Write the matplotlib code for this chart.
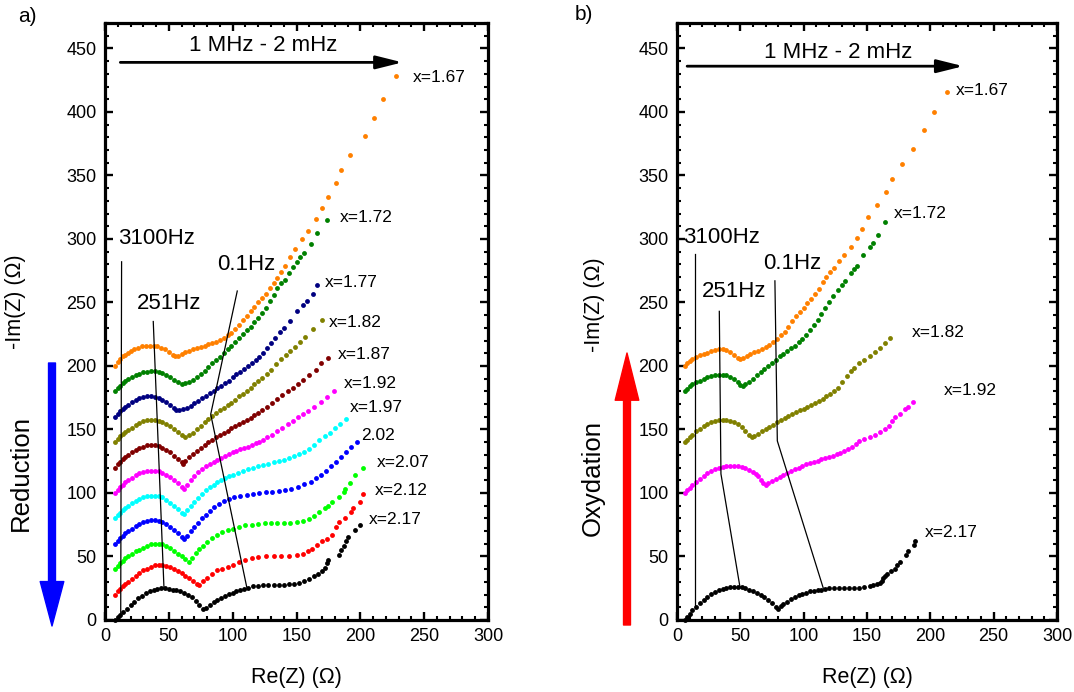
import numpy as np
import matplotlib.pyplot as plt
from matplotlib.ticker import MultipleLocator
from matplotlib.patches import FancyArrowPatch

plt.rcParams['font.family'] = ['Liberation Sans', 'DejaVu Sans']

# ---- panel a) reduction, Re(Z) / -Im(Z) pairs (offset curves) ----
a_167 = [(8,200),(10,203),(12,205.5),(14,207.5),(16,209),(18,210.5),(20,212),(23,213.5),(26,214.5),(29,215.5),
         (32,216),(35,216),(38,216),(41,215.5),(44,214.5),(47,213),(50,211),(53,209),(55,208),(57,208),
         (60,209.5),(63,211),(66,212),(69,213),(72,214),(75,215),(78,216),(81,217),(84,218),(87,219),
         (90,220.5),(93,222),(96,224),(99,226),(102,229),(105,232),(108,236),(111,239.5),(114,243),(117,246.5),
         (120,250),(123,253.5),(126,257),(129,261),(132,265),(135,269),(138,274),(141,279),(145,286),(149,292),
         (154,300),(159,306),(165,316),(170,324),(175,333),(181,344),(185,354),(192,366),(204,381),(211,395),
         (218,410),(228,428)]
a_172 = [(8,180),(10,182.5),(12,184.5),(14,186.5),(16,188),(18,189.5),(21,191),(24,192.5),(27,194),(30,195),
         (33,195.5),(36,196),(39,196),(42,195.5),(45,194.5),(48,193),(51,191),(54,189),(57,187),(60,186),
         (63,186.5),(66,187),(69,189),(72,191.5),(75,194),(78,196),(81,199),(84,202),(87,204.5),(90,207),
         (93,210),(96,213),(99,216),(102,219),(105,222),(108,225),(111,228),(114,231),(117,234.5),(120,238),
         (123,241.5),(126,246),(129,251),(132,256),(135,261),(138,265),(141,268),(144,273),(147,278),(150,282),
         (153,286),(156,289),(161,296),(166,305),(174,315)]
a_177 = [(8,160),(10,162.5),(12,164.5),(14,166.5),(16,168),(18,169.5),(21,171.5),(24,173),(27,174.5),(30,175.5),
         (33,176),(36,176),(39,175.5),(42,174.5),(45,173),(48,171.5),(51,169.5),(54,167),(56,165),(58,165.5),
         (61,166),(64,167),(67,168.5),(70,170.5),(73,172.5),(76,174.5),(79,176.5),(82,178.5),(85,180.5),(88,182.5),
         (91,184.5),(94,186.5),(97,188.5),(100,191),(103,193.5),(106,195.5),(109,197.5),(112,200),(115,202),(118,204.5),
         (121,207),(124,210.5),(127,214),(130,218),(133,222),(137,227),(140,230),(145,235.5),(150,243),(155,248),
         (158,251),(163,257),(166,264)]
a_182 = [(8,140),(10,142.5),(12,144.5),(14,146.5),(16,148),(18,149.5),(21,151.5),(24,153.5),(27,155),(30,156.5),
         (33,157.5),(36,157.5),(39,157.5),(42,157),(45,156),(48,154.5),(51,152.5),(54,150.5),(57,148),(60,146),
         (63,144),(66,145.5),(69,147.5),(72,150),(75,152.5),(78,155.5),(81,158),(84,160.5),(87,163),(90,165),
         (93,167),(96,169),(99,171),(102,173.5),(105,176),(108,178),(111,180.5),(114,183),(117,185.5),(120,188),
         (123,190.5),(127,194),(130,197),(134,201.5),(138,205.5),(142,209),(145,212),(149,215),(153,219),(157,223),
         (163,229),(170,236)]
a_187 = [(8,120),(10,122.5),(12,124.5),(14,126.5),(16,128.5),(18,130),(21,132),(24,134),(27,135.5),(30,136.5),
         (33,137.5),(36,137.5),(39,137.5),(42,137),(45,135.5),(48,134),(51,132),(54,129.5),(57,126.5),(60,124),
         (61,123),(63,125),(66,128),(69,130.5),(72,133),(75,135.5),(78,138),(81,140),(84,142),(87,144),
         (90,146),(93,147.5),(96,149),(99,151),(102,152.5),(105,154),(108,155.5),(111,157.5),(114,159),(117,161),
         (120,163),(123,165),(127,168),(131,171),(135,174),(139,177),(143,180.5),(147,183),(151,186),(155,189),
         (160,193),(165,197),(169,202),(175,206)]
a_192 = [(8,100),(10,102.5),(12,104.5),(14,106.5),(16,108.5),(18,110),(21,112),(24,114),(27,115.5),(30,116.5),
         (33,117.5),(36,117.5),(39,117.5),(42,117),(45,116),(48,114.5),(51,112.5),(54,110),(57,107.5),(60,104.5),
         (62,103.5),(64,106),(67,110),(70,113.5),(73,116.5),(76,119),(79,121),(82,123),(85,124.5),(88,126),
         (91,127.5),(94,129),(97,130.5),(100,132),(103,133),(106,134.5),(109,135.5),(112,136.5),(115,137.5),(118,139),
         (121,140.5),(124,142),(127,144),(131,146),(135,148.5),(139,151),(143,154),(147,157),(151,159.5),(155,162),
         (159,164.5),(164,168),(169,171.5),(174,175.5),(179,180)]
a_197 = [(8,80),(10,82.5),(12,84.5),(14,86.5),(16,88.5),(18,90),(21,92),(24,94),(27,95.5),(30,97),
         (33,97.5),(36,98),(39,98),(42,97.5),(45,96.5),(48,94.5),(51,92.5),(54,90),(57,87),(60,84),
         (62,83.5),(64,86.5),(67,90),(70,93),(73,96),(76,99),(79,102),(82,104.5),(85,106.5),(88,108.5),
         (91,110),(94,111.5),(97,113),(100,114.5),(104,116),(108,117.5),(112,119),(116,120),(120,121),(124,122),
         (128,123),(132,124),(136,125),(140,126),(144,127.5),(148,129),(152,131),(156,132.5),(160,135),(164,138),
         (168,141.5),(172,144.5),(176,147.5),(180,151),(184,154.5),(189,158)]
a_202 = [(8,60),(10,62.5),(12,64.5),(14,66.5),(16,68.5),(18,70),(21,72),(24,74),(27,75.5),(30,77),
         (33,78),(36,78.5),(39,78.5),(42,78),(45,77),(48,75.5),(51,73.5),(54,71),(57,68.5),(60,65.5),
         (62,64),(64,66.5),(67,70),(70,73),(73,76.5),(76,80),(79,83),(82,86),(85,89),(89,91.5),
         (93,93.5),(97,95),(101,96.5),(106,97.5),(111,98.5),(116,99.5),(121,100),(126,100.5),(131,101),(136,101.5),
         (141,102),(146,103.5),(151,105),(156,107),(161,109),(165,111.5),(169,114.5),(173,117.5),(177,121),(181,124.5),
         (185,128.5),(189,132.5),(193,136.5),(197,140.5)]
a_207 = [(8,40),(10,42.5),(12,44.5),(14,46.5),(16,48.5),(18,50),(21,52),(24,54),(27,55.5),(30,57),
         (33,58.5),(36,59.5),(39,60),(42,60),(45,59.5),(48,58),(51,56.5),(54,54.5),(57,52),(60,50),
         (63,48),(66,46),(68,48.5),(71,52.5),(74,56),(77,58.5),(80,61.5),(84,64.5),(88,67),(92,69),
         (96,70.5),(100,72),(105,73.5),(110,74.5),(115,75),(120,75.5),(125,76),(130,76),(135,76),(140,76),
         (145,76.5),(150,77),(155,78),(160,79.5),(164,81.5),(168,85),(172,88),(175,90),(178,93),(183,97),
         (187,101),(188,103),(192,107.5),(196,114),(202,120)]
a_212 = [(8,20),(10,22.5),(12,24.5),(14,26.5),(16,28.5),(18,30),(21,32.5),(24,35),(27,37),(30,39),
         (33,40.5),(36,42),(39,43),(42,43),(45,43),(48,42.5),(51,41.5),(54,40),(57,38.5),(60,37),
         (63,35),(66,33),(69,30.5),(72,28),(74,27.5),(77,30.5),(80,33),(84,36.5),(88,39),(92,40.5),
         (96,42),(100,43.5),(105,45.5),(110,47),(115,48.5),(120,49.5),(126,50.5),(132,50.5),(138,50.5),(144,50.5),
         (150,51),(155,52),(159,54),(162,56),(166,59),(170,62),(174,64),(178,67),(181,73),(183,77),
         (188,80),(193,85),(194,88),(200,93),(202,99)]
a_217 = [(8,0),(10,2),(12,4),(14,6),(17,9),(20,12),(23,14.5),(26,17),(29,19),(32,21),
         (35,22.5),(38,23.5),(41,24.5),(44,25),(47,25),(50,24.5),(53,24),(56,23.5),(59,22.5),(62,21.5),
         (65,20),(68,18),(71,15),(74,12),(77,8.5),(79,9.5),(82,12),(85,14),(88,16),(91,17.5),
         (94,19),(97,20.5),(100,21.5),(103,22.5),(106,23.5),(109,24.5),(112,25.5),(116,26.5),(120,27),(124,27.5),
         (128,27.5),(132,27.5),(136,27.5),(140,27.5),(144,28),(148,28.5),(152,29.5),(156,31),(160,32.5),(164,34.5),
         (167,36.5),(170,38.5),(172,41),(174,44.5),(175,47),(183,51),(185,55),(187,58),(189,62),(190,65),
         (196,71),(200,75)]

a_curves = [a_167, a_172, a_177, a_182, a_187, a_192, a_197, a_202, a_207, a_212, a_217]
a_colors = ['#FF8000', '#008000', '#000080', '#808000', '#800000', '#FF00FF',
            '#00FFFF', '#0000FF', '#00FF00', '#FF0000', '#000000']
a_names = ['x=1.67', 'x=1.72', 'x=1.77', 'x=1.82', 'x=1.87', 'x=1.92',
           'x=1.97', '2.02', 'x=2.07', 'x=2.12', 'x=2.17']
a_name_xy = [(241, 427), (184, 317), (172, 266), (175, 234), (182, 209), (187, 186),
             (192, 167), (201, 145), (213, 124), (211, 102), (207, 79)]

# ---- panel b) oxidation ----
b_167 = [(6,200),(8,202),(10,204),(12,205.5),(15,207),(18,208.5),(21,209.5),(24,210.5),(27,211.5),(30,212.5),
         (33,213),(36,213),(39,212.5),(42,211),(45,208.5),(48,206),(50,205.5),(52,206.5),(55,208),(58,209.5),
         (61,211),(64,212),(67,213.5),(70,215),(73,216.5),(76,218.5),(79,221),(82,224),(85,227),(88,230.5),
         (91,235),(94,239),(97,242.5),(100,246),(103,249.5),(106,253),(109,256.5),(112,260.5),(115,266),(118,270),
         (121,274),(124,277),(128,283),(132,287.5),(137,294),(142,301),(146,308),(151,317),(158,327),(165,337),
         (170,347),(178,359),(186,371),(195,386),(203,400),(213,416)]
b_172 = [(6,180),(8,182),(10,184),(12,185.5),(15,187),(18,188.5),(21,190),(24,191),(27,192),(30,192.5),
         (33,193),(36,193),(39,192.5),(42,191),(45,189.5),(48,187),(50,185),(52,184.5),(54,185.5),(57,187.5),
         (60,190),(63,192.5),(66,195),(69,197.5),(72,200),(75,202.5),(78,205),(81,207.5),(84,209.5),(87,211.5),
         (90,214),(93,216),(96,218.5),(99,221),(102,224.5),(105,228),(108,232),(111,236.5),(114,241),(117,245.5),
         (120,250.5),(123,255),(127,260),(130,264),(133,267),(137,273),(140,276.5),(142,279),(147,287),(152,294),
         (155,297),(159,303),(164,313)]
b_182 = [(6,140),(8,142),(10,144),(12,146),(15,148.5),(18,150.5),(21,152.5),(24,154),(27,155.5),(30,156.5),
         (33,157.5),(36,157.5),(39,157.5),(42,157),(45,156),(48,154),(51,152),(54,149),(57,146),(59,144),
         (61,144.5),(64,146.5),(67,148.5),(70,150.5),(73,152),(76,153.5),(79,155.5),(82,157.5),(85,159),(88,160.5),
         (91,162),(94,163.5),(97,165),(100,166.5),(103,168),(106,169.5),(109,171),(112,172.5),(115,174),(118,176),
         (121,178),(124,180),(127,183),(130,187),(134,192),(137,196),(140,198),(144,202),(148,205),(152,208),
         (156,211),(160,214),(164,218),(168,222)]
b_192 = [(6,100),(8,102),(10,104),(12,106),(15,108.5),(18,111),(21,113.5),(24,115.5),(27,117.5),(30,119),
         (33,120),(36,120.5),(39,121),(42,121.5),(45,121.5),(48,121),(51,120.5),(54,119.5),(57,118),(60,116.5),
         (62,115),(64,113),(66,110.5),(68,108),(70,106.5),(72,107.5),(75,109.5),(78,111),(81,112.5),(84,114),
         (87,115.5),(90,117),(93,118.5),(96,120),(99,121.5),(102,122.5),(105,123.5),(108,124.5),(111,125.5),(114,126.5),
         (117,127.5),(120,128.5),(123,129.5),(126,130.5),(129,131.5),(132,133),(135,134.5),(138,136.5),(141,138.5),(144,141),
         (148,142.5),(152,144),(156,146),(160,148),(164,150.5),(167,153),(170,157),(172,159.5),(176,162),(180,166),
         (182,168),(186,171.5)]
b_217 = [(6,0),(8,2.5),(10,5),(12,7.5),(15,10.5),(18,13.5),(21,16),(24,18.5),(27,20.5),(30,22),
         (33,23.5),(36,24.5),(39,25.5),(42,26),(45,26),(48,26),(51,26),(54,25),(57,24),(60,23),
         (63,21.5),(66,20),(69,18),(72,16),(75,13),(78,10),(80,9),(82,11),(84,12.5),(87,14.5),
         (90,16.5),(93,18),(96,19.5),(99,20.5),(102,21.5),(105,22.5),(108,23),(111,23.5),(114,24),(117,24.5),
         (120,25),(124,25),(128,25),(132,25),(136,25),(140,25.5),(144,25.5),(148,26),(152,26.5),(155,27.5),
         (158,28.5),(160,29.5),(162,31),(163,33),(164,34.5),(166,36.5),(169,38.5),(172,40.5),(174,43),(176,46),
         (181,51),(182,54.5),(187,59),(188,62.5)]

b_curves = [b_167, b_172, b_182, b_192, b_217]
b_colors = ['#FF8000', '#008000', '#808000', '#FF00FF', '#000000']
b_names = ['x=1.67', 'x=1.72', 'x=1.82', 'x=1.92', 'x=2.17']
b_name_xy = [(220, 417), (171, 320), (185, 226), (211, 181), (196, 69)]

# frequency markers: label text, label position, guide line
a_freq = [('3100Hz', (10, 300), [(13, 282), (12.3, 2)]),
          ('251Hz', (25, 249), [(37.8, 235), (46.2, 25)]),
          ('0.1Hz', (88, 280), [(103.6, 259), (82.8, 162), (111, 26)])]
b_freq = [('3100Hz', (5, 301), [(14.2, 288), (14.2, 10)]),
          ('251Hz', (19.5, 259), [(33.4, 243), (34.7, 115), (49.7, 26)]),
          ('0.1Hz', (67.6, 281), [(77.3, 267), (79.2, 141), (115.5, 25)])]

fig = plt.figure(figsize=(10.74, 6.92), dpi=100)
ax_a = fig.add_axes([105/1074, 72/692, 383/1074, 597/692])
ax_b = fig.add_axes([677/1074, 72/692, 380/1074, 597/692])


def style_axes(ax):
    ax.set_xlim(0, 300)
    ax.set_ylim(0, 470)
    ax.set_xticks(range(0, 301, 50))
    ax.set_yticks(range(0, 451, 50))
    ax.xaxis.set_minor_locator(MultipleLocator(10))
    ax.yaxis.set_minor_locator(MultipleLocator(10))
    ax.tick_params(which='both', direction='in', top=True, right=True, labelsize=13, pad=6)
    ax.tick_params(which='major', length=6, width=1.7)
    ax.tick_params(which='minor', length=3.2, width=1.5)
    for s in ax.spines.values():
        s.set_linewidth(2.3)
    ax.set_xlabel('Re(Z) (\u03a9)', fontsize=15.5)
    ax.xaxis.set_label_coords(0.5, -0.078)
    ax.set_ylabel('-Im(Z) (\u03a9)', fontsize=15.5)


def draw_panel(ax, curves, colors, names, name_xy, freq, arrow_x, arrow_y, title_xy):
    for pts, c in zip(curves, colors):
        arr = np.array(pts)
        ax.plot(arr[:, 0], arr[:, 1], 'o', ms=3.5, color=c, mec='none', clip_on=False)
    for name, (x, y) in zip(names, name_xy):
        ax.text(x, y, name, fontsize=12.5, ha='left', va='center')
    for txt, (x, y), line in freq:
        ax.text(x, y, txt, fontsize=16, ha='left', va='center')
        ln = np.array(line)
        ax.plot(ln[:, 0], ln[:, 1], color='k', lw=0.9)
    ax.annotate('', xy=(arrow_x[1], arrow_y), xytext=(arrow_x[0], arrow_y),
                arrowprops=dict(arrowstyle='-|>,head_length=1.6,head_width=0.4', lw=2,
                                color='k', mutation_scale=10, shrinkA=0, shrinkB=0))
    ax.text(title_xy[0], title_xy[1], '1 MHz - 2 mHz', fontsize=16, ha='center', va='center')


style_axes(ax_a)
style_axes(ax_b)
ax_a.yaxis.set_label_coords(-0.205, 0.533)
ax_b.yaxis.set_label_coords(-0.19, 0.528)

draw_panel(ax_a, a_curves, a_colors, a_names, a_name_xy, a_freq, (12, 233), 439, (124, 452))
draw_panel(ax_b, b_curves, b_colors, b_names, b_name_xy, b_freq, (8, 226), 436, (127, 447))

fig.text(27/1074, 1 - 16/692, 'a)', fontsize=15, ha='center', va='center')
fig.text(584/1074, 1 - 15/692, 'b)', fontsize=15, ha='center', va='center')

# big side arrows
blue = FancyArrowPatch((52/1074, 1 - 363/692), (52/1074, 1 - 626/692), transform=fig.transFigure,
                       arrowstyle='simple,head_length=32,head_width=17,tail_width=5',
                       mutation_scale=1, color='#0000FF', shrinkA=0, shrinkB=0)
red = FancyArrowPatch((627/1074, 1 - 625/692), (627/1074, 1 - 353/692), transform=fig.transFigure,
                      arrowstyle='simple,head_length=34,head_width=17,tail_width=5',
                      mutation_scale=1, color='#FF0000', shrinkA=0, shrinkB=0)
fig.add_artist(blue)
fig.add_artist(red)
fig.text(21/1074, 1 - 473/692, 'Reduction', fontsize=18.5, rotation=90, ha='center', va='center')
fig.text(593/1074, 1 - 478/692, 'Oxydation', fontsize=18.5, rotation=90, ha='center', va='center')

fig.savefig('out.png', dpi=100)
